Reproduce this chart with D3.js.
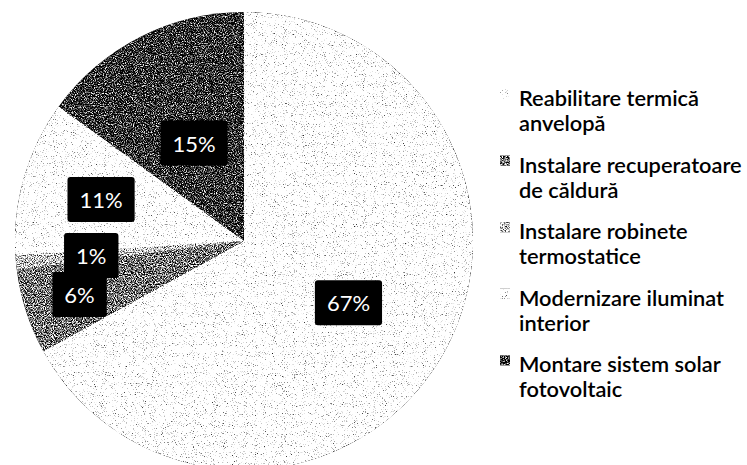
<!DOCTYPE html>
<html>
<head>
<meta charset="utf-8">
<script src="https://cdn.jsdelivr.net/npm/d3@7"></script>
<style>
  html, body { margin: 0; padding: 0; background: #fff; }
  svg { display: block; }
</style>
</head>
<body>
<svg id="chart" width="747" height="465"></svg>
<script>
// Energy-efficiency measures: share of each measure (percent)
const categories = [
  "Reabilitare termică anvelopă",
  "Instalare recuperatoare de căldură",
  "Instalare robinete termostatice",
  "Modernizare iluminat interior",
  "Montare sistem solar fotovoltaic"
];
const shares = [67, 6, 1, 11, 15];
const valueLabels = ["67%", "6%", "1%", "11%", "15%"];

// Styling: grey tones per slice (printed in monochrome)
const sliceTones = ["#fcfcfc", "#8e8e8e", "#b8b8b8", "#fdfdfd", "#6c6c6c"];
// How far out (fraction of radius) each value label sits
const labelRadius = [0.53, 0.755, 0.67, 0.65, 0.48];

const W = 747, H = 465;
const cx = 244, cy = 241, R = 229;
const fontFamily = "Lato, 'Open Sans', 'DejaVu Sans', sans-serif";

const svg = d3.select("#chart");
svg.append("rect").attr("width", W).attr("height", H).attr("fill", "#fff");

// Grain filter: noise added to the grey fill, then contrast-stretched into speckle
const defs = svg.append("defs");
const f = defs.append("filter")
  .attr("id", "grain")
  .attr("filterUnits", "userSpaceOnUse")
  .attr("x", 0).attr("y", 0).attr("width", W).attr("height", H)
  .attr("color-interpolation-filters", "sRGB");
f.append("feTurbulence")
  .attr("type", "fractalNoise").attr("baseFrequency", 0.9)
  .attr("numOctaves", 2).attr("seed", 7).attr("result", "noise");
f.append("feColorMatrix")
  .attr("in", "noise").attr("type", "matrix")
  .attr("values", "1 0 0 0 0  1 0 0 0 0  1 0 0 0 0  0 0 0 0 1")
  .attr("result", "mono");
f.append("feComposite")
  .attr("in", "SourceGraphic").attr("in2", "mono")
  .attr("operator", "arithmetic")
  .attr("k1", 0).attr("k2", 1).attr("k3", 1.5).attr("k4", -0.75)
  .attr("result", "mix");
const ct = f.append("feComponentTransfer").attr("in", "mix").attr("result", "speckle");
["feFuncR", "feFuncG", "feFuncB"].forEach(fn =>
  ct.append(fn).attr("type", "linear").attr("slope", 2.2).attr("intercept", -0.77));
f.append("feComposite")
  .attr("in", "speckle").attr("in2", "SourceAlpha").attr("operator", "in");

const data = categories.map((c, i) => ({
  name: c, value: shares[i], label: valueLabels[i],
  tone: sliceTones[i], lr: labelRadius[i]
}));

const pie = d3.pie().value(d => d.value).sort(null);
const arc = d3.arc().innerRadius(0).outerRadius(R);
const arcs = pie(data);

// slices (group left untranslated so the filter region covers the canvas)
svg.append("g").attr("filter", "url(#grain)")
  .selectAll("path").data(arcs).join("path")
  .attr("transform", `translate(${cx},${cy})`)
  .attr("d", arc)
  .attr("fill", d => d.data.tone);

// Value labels: white text on black boxes
const gLab = svg.append("g").attr("transform", `translate(${cx},${cy})`);
const boxH = 45, padX = 12;
const placed = [];
arcs.forEach(a => {
  const la = d3.arc().innerRadius(R * a.data.lr).outerRadius(R * a.data.lr);
  let [x, y] = la.centroid(a);
  const g = gLab.append("g");
  const t = g.append("text")
    .attr("text-anchor", "middle")
    .attr("dominant-baseline", "central")
    .attr("font-family", fontFamily)
    .attr("font-size", 22)
    .attr("fill", "#fff")
    .text(a.data.label);
  const tw = t.node().getComputedTextLength();
  const bw = tw + 2 * padX;
  // keep neighbouring label boxes from overlapping
  placed.forEach(p => {
    const ox = Math.abs(p.x - x) < (p.w + bw) / 2;
    const oy = Math.abs(p.y - y) < boxH;
    if (ox && oy && y >= p.y) y = p.y + boxH;
  });
  placed.push({x, y, w: bw});
  g.attr("transform", `translate(${x},${y})`);
  g.insert("rect", "text")
    .attr("x", -bw / 2).attr("y", -boxH / 2)
    .attr("width", bw).attr("height", boxH)
    .attr("rx", 3)
    .attr("fill", "#000");
});

// Legend
const legX = 500, textX = 519, firstBase = 106, step = 66.6, lineH = 25, maxW = 235;
const gLeg = svg.append("g");
data.forEach((d, i) => {
  const base = firstBase + i * step;
  const t = gLeg.append("text")
    .attr("x", textX).attr("y", base)
    .attr("font-family", fontFamily)
    .attr("font-size", 21.8)
    .attr("font-weight", 600)
    .attr("fill", "#000");
  // word-wrap the category name
  const words = d.name.split(" ");
  let line = [], lineNo = 0;
  let ts = t.append("tspan").attr("x", textX).attr("y", base);
  words.forEach(w => {
    line.push(w);
    ts.text(line.join(" "));
    if (ts.node().getComputedTextLength() > maxW && line.length > 1) {
      line.pop();
      ts.text(line.join(" "));
      line = [w];
      lineNo++;
      ts = t.append("tspan").attr("x", textX).attr("y", base + lineNo * lineH).text(w);
    }
  });
  gLeg.append("rect")
    .attr("x", legX).attr("y", base - 17)
    .attr("width", 10).attr("height", 10)
    .attr("fill", d.tone)
    .attr("filter", "url(#grain)");
});
</script>
</body>
</html>
